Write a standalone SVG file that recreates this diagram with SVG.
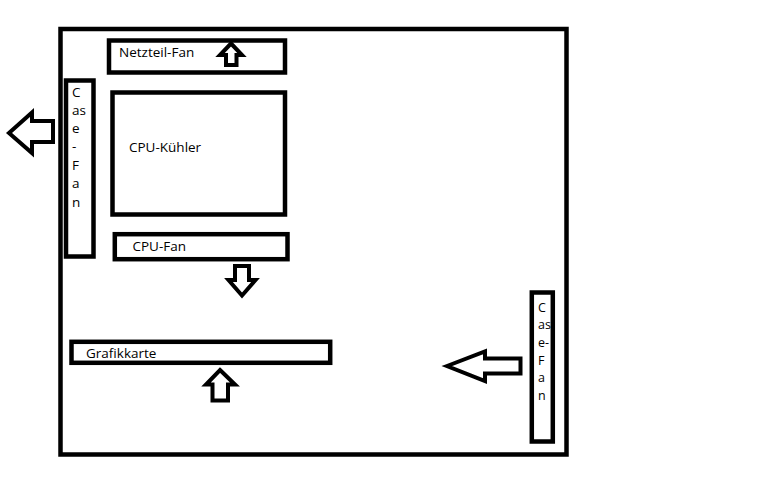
<svg xmlns="http://www.w3.org/2000/svg" width="768" height="480" viewBox="0 0 768 480">
<style>
.box{fill:none;stroke:#000;stroke-width:4.5}
.arr{fill:#fff;stroke:#000;stroke-width:4;stroke-linejoin:miter}
text{font-family:"Open Sans","Noto Sans",sans-serif;font-size:13.5px;fill:#000}
.sm{font-size:12.5px}
</style>
<rect width="768" height="480" fill="#fff"/>
<g id="case">
<rect class="box" x="60.5" y="29" width="506" height="425.5" stroke-width="5"/>
</g>
<g id="netzteil-fan">
<rect class="box" x="109" y="40.5" width="176" height="32"/>
<text x="119" y="57">Netzteil-Fan</text>
</g>
<g id="case-fan-left">
<rect class="box" x="66" y="80.5" width="27.5" height="176"/>
<text x="72" y="97">C</text>
<text x="72" y="115">as</text>
<text x="72" y="133">e</text>
<text x="72" y="151">-</text>
<text x="72" y="170">F</text>
<text x="72" y="188">a</text>
<text x="72" y="207">n</text>
</g>
<g id="cpu-kuehler">
<rect class="box" x="112.5" y="92.5" width="172.5" height="122"/>
<text x="129" y="152">CPU-Kühler</text>
</g>
<g id="cpu-fan">
<rect class="box" x="114.8" y="234.2" width="172.7" height="25" stroke-width="5"/>
<text x="132.5" y="251">CPU-Fan</text>
</g>
<g id="grafikkarte">
<rect class="box" x="71.5" y="341.8" width="258.7" height="21" stroke-width="5"/>
<text x="86" y="357.5">Grafikkarte</text>
</g>
<g id="case-fan-right">
<rect class="box" x="531.8" y="292.5" width="21" height="149"/>
<text class="sm" x="538" y="311.5">C</text>
<text class="sm" x="538" y="329">as</text>
<text class="sm" x="538" y="347">e-</text>
<text class="sm" x="538" y="364.5">F</text>
<text class="sm" x="538" y="382">a</text>
<text class="sm" x="538" y="400">n</text>
</g>
<g id="connectors">
<polygon class="arr" points="231,43.5 242,55 236.5,55 236.5,65 226,65 226,55 220,55"/>
<polygon class="arr" points="9,133 32,112.5 32,121 53,121 53,142 32,142 32,153"/>
<polygon class="arr" points="235,266 249,266 249,280 255.5,280 242,295.5 228.5,280 235,280"/>
<polygon class="arr" points="220,370 235,384.5 228,384.5 228,400.5 212.5,400.5 212.5,384.5 206,384.5"/>
<polygon class="arr" points="447,366 485,351.5 485,358.5 520.5,358.5 520.5,373.5 485,373.5 485,381"/>
</g>
</svg>
